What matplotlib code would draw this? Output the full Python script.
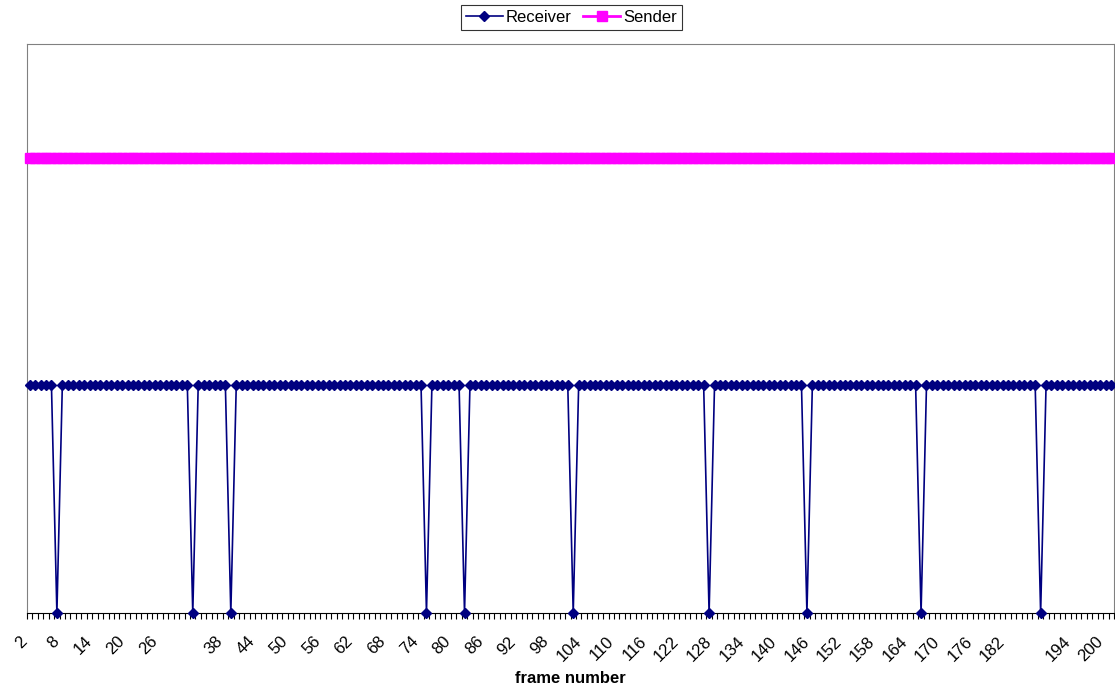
import matplotlib.pyplot as plt
import numpy as np

plt.rcParams['font.family'] = ['Liberation Sans', 'DejaVu Sans']

# frame numbers 2..201, frames lost at the receiver have a blank label
frames = list(range(2, 202))
lost_frames = [7, 32, 39, 75, 82, 102, 127, 145, 166, 188]
receiver = [0 if f in lost_frames else 1 for f in frames]
sender = [2] * len(frames)
labels = ['' if f in lost_frames else str(f) for f in frames]

x = np.arange(len(frames))

fig = plt.figure(figsize=(11.15, 6.94), dpi=100)
ax = fig.add_axes([27/1115, 81/694, 1087/1115, 569/694])

ax.plot(x, receiver, color='#000080', marker='D', ms=5.5, lw=1.2,
        label='Receiver', clip_on=False, zorder=3)
ax.plot(x, sender, color='#FF00FF', marker='s', ms=6.5, lw=2,
        label='Sender', clip_on=False, zorder=3)

ax.set_xlim(-0.5, len(frames) - 0.5)
ax.set_ylim(0, 2.5)
ax.set_yticks([])

# tick marks between categories, labels every 6th category
ax.set_xticks(np.arange(-0.5, len(frames)), minor=False)
ax.set_xticklabels([])
ax.tick_params(axis='x', which='major', direction='out', length=4.5, width=0.8, color='black')
ax.set_xticks(x[::6], minor=True)
ax.set_xticklabels(labels[::6], minor=True, rotation=45, ha='right', va='top', fontsize=12)
ax.tick_params(axis='x', which='minor', length=0, pad=15)

for s in ['left', 'top', 'right']:
    ax.spines[s].set_color('#808080')
ax.spines['bottom'].set_color('black')

ax.set_xlabel('frame number', fontsize=12, fontweight='bold', labelpad=5)

leg = fig.legend(loc='upper center', bbox_to_anchor=(571.5/1115, 1 - 5/694), ncol=2,
                 fontsize=12, frameon=True, fancybox=False, edgecolor='black',
                 handlelength=2.2, handletextpad=0.2, columnspacing=0.7,
                 borderpad=0.3, borderaxespad=0)
leg.get_frame().set_linewidth(0.8)

fig.savefig('out.png', dpi=100)
